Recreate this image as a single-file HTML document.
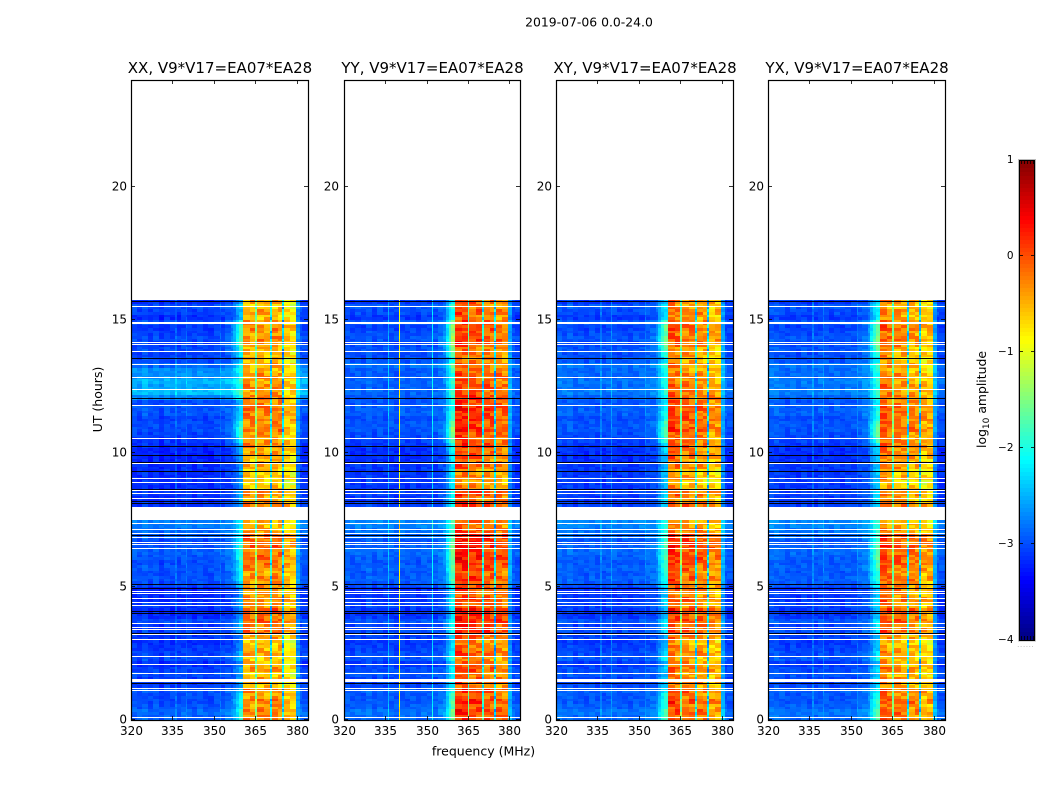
<!DOCTYPE html>
<html><head><meta charset="utf-8"><title>2019-07-06 spectrogram</title>
<style>
html,body{margin:0;padding:0;background:#fff;width:1050px;height:800px;overflow:hidden}
svg{display:block}
text{font-family:"DejaVu Sans","Liberation Sans",sans-serif;fill:#000}
</style></head>
<body>
<svg id="chart" xmlns="http://www.w3.org/2000/svg" width="1050" height="800" viewBox="0 0 1050 800">
<rect width="1050" height="800" fill="#fff"/>
<text x="589" y="26.500" font-size="12.400" text-anchor="middle">2019-07-06 0.0-24.0</text>
<text x="102" y="399.500" font-size="12.500" text-anchor="middle" transform="rotate(-90 102 399.500)">UT (hours)</text>
<text x="483.500" y="755.500" font-size="12.500" text-anchor="middle">frequency (MHz)</text>
<text x="986" y="399.500" font-size="12.400" text-anchor="middle" transform="rotate(-90 986 399.500)">log<tspan font-size="9" dy="3">10</tspan><tspan dy="-3"> amplitude</tspan></text>
</svg>
<script>
const panelTitles = ["XX, V9*V17=EA07*EA28","YY, V9*V17=EA07*EA28","XY, V9*V17=EA07*EA28","YX, V9*V17=EA07*EA28"];
const xTicks = [320,335,350,365,380];
const yTicks = [0,5,10,15,20];
const colorbarTicks = [1,0,-1,-2,-3,-4];
const colorbarEndTicks = [1021.500,1024.500,1027.500,1030.500,1033.500];
const freqEdges = [320,322,324,326,328,330,332,334,336,336.5,338,340,340.4,342,344,346,348,350,352,352.4,354,356,357,358,359,360.5,363,365,365.6,368,370.2,370.9,373,374.7,375.3,377.5,379.6,381,382,384];
const spectrumXX = [-3.05,-3.1,-3.0,-3.1,-3.05,-3.15,-3.05,-3.1,-2.9,-3.1,-3.05,-2.9,-3.05,-3.1,-3.05,-3.1,-3.1,-3.05,-2.9,-3.05,-3.0,-3.0,-2.9,-2.75,-2.6,-0.45,-0.5,-1.6,-0.45,-0.5,-2.2,-0.45,-0.5,-2.4,-0.75,-0.8,-2.7,-3.0,-3.05];
const spectrumYY = [-3.0,-3.05,-3.0,-3.05,-2.95,-3.05,-3.0,-3.05,-2.5,-3.0,-3.05,-0.9,-3.0,-3.05,-3.0,-3.05,-3.0,-3.0,-2.2,-3.0,-2.95,-2.9,-2.6,-2.35,-2.2,0.0,-0.05,-1.8,-0.1,-0.15,-2.1,-0.2,-0.25,-2.3,-0.3,-0.35,-2.6,-3.0,-3.05];
const spectrumXY = [-2.95,-3.0,-2.95,-3.05,-3.0,-3.05,-3.0,-3.05,-2.8,-3.05,-3.0,-2.7,-3.0,-3.05,-3.0,-3.05,-3.0,-3.0,-2.8,-2.95,-2.95,-2.9,-2.7,-2.5,-2.4,-0.15,-0.25,-1.7,-0.3,-0.35,-2.1,-0.4,-0.45,-2.3,-0.55,-0.6,-2.6,-3.0,-3.05];
const spectrumYX = [-2.95,-2.95,-3.0,-3.05,-3.0,-3.05,-3.0,-3.05,-2.8,-3.05,-3.0,-2.8,-3.0,-3.05,-3.0,-3.05,-3.0,-3.0,-2.8,-2.95,-2.9,-2.85,-2.65,-2.45,-2.35,-0.25,-0.35,-1.7,-0.4,-0.45,-2.1,-0.5,-0.55,-2.3,-0.65,-0.7,-2.6,-3.0,-3.05];
const bandGain = [.15,.25,.1,.3,.05,.2,-.1,.05,-.15,.1,-.05,-.2,.05,-.1,-.2,.05,.3,.2,.35,.25,.4,.05,.2,0,.15,.1,.25,.05,.2,.3,.35,.25,.4,.3,.35,.05,-.1,-.05,0,.1,.2,-.05,.15,-.15,-.3,-.1,-.25,.05,-.1,.1,.05,.2,.1,.1,.3,.15,.25,.2,.3,.15,.2,.05,.15,0,.1,-.1,0,-.15,-.05,-.1,.1,.2,.05,.2,.1,-.1,.05,-.15,0];
const floorGain = [.15,.2,.1,.05,.05,.1,0,-.05,.05,0,-.1,.05,0,-.05,-.1,-.05,0,-.05,.05,-.1,-.1,-.05,-.1,-.1,-.15,.05,.1,.05,.1,.05,.1,.15,.1,.05,.15,.2,.3,.3,.25,.2,-.05,-.1,-.05,-.1,-.1,-.1,-.1,-.1,-.15,-.15,-.15,-.1,-.05,0,.05,.05,0,.1,.1,.05,.35,.65,.5,.6,.4,.4,.2,.05,0,.05,0,.05,0,-.05,.05,-.1,0,.05,-.1];
const shoulderGain = [.4,.4,.3,.4,.3,.1,0,.1,-.1,.1,0,.2,.1,0,0,-.1,.1,.2,.1,0,0,.1,.2,0,.1,.2,.3,.3,.4,.4,.5,.4,.5,.4,.3,.2,.1,.1,0,0,.1,.2,.1,0,.1,0,.1,0,.1,.1,.2,.2,.5,.6,.6,.5,.3,.2,.1,.1,.2,.2,.1,.2,.1,.2,.3,.1,.4,.5,.7,.7,.6,.7,.5,.2,.1,.2,.1];
const cellTexture = [-.12,.1,-.05,.14,-.1,.02,.16,-.14,.06,-.02,.12,-.16,.08,-.06,.18,-.08,.04,-.12,.1,0,-.04,.14,-.1];
const panelFloorScale = [1,0.2,0.35,0.4];
const flaggedHours = [15.52,14.88,14.92,14.16,14.1,13.84,13.35,12.85,12.41,11.81,10.59,9.65,9.06,8.94,8.62,8.53,8.34,7.37,7.15,7.02,6.88,6.66,6.59,6.44,4.84,4.75,4.56,4.44,4.31,3.65,3.5,3.4,3.22,3.04,2.41,2.09,1.75,1.46,1.5,1.54,1.19,1.12,0.1];
const darkHours = [15.71,13.59,12.06,10.26,9.92,9.69,9.34,8.68,8.22,8.12,6.92,5.1,4.96,4.1,4.0,3.27,1.38];
const gapStart = [7.5];
const gapEnd = [7.99];

const SVG_NS = "http://www.w3.org/2000/svg";
const svg = document.getElementById('chart');
const panelLeft = [131,344,556,768];
const panelRight = [308,520,733,945];
const yLabelPad = [4,5,4,4];
const plotTop = 80, plotBottom = 720;
const freqMin = 320, freqMax = 384, hourMin = 0, hourMax = 24;
const rowStep = 0.2, dataEnd = 15.75;
const bandLow = 360.5, bandHigh = 379.6, shoulderLow = 352.4;
const vMin = -4, vMax = 1;
const spectra = [spectrumXX,spectrumYY,spectrumXY,spectrumYX];

function node(tag, attrs, parent){
  const n = document.createElementNS(SVG_NS, tag);
  for (const k in attrs) n.setAttribute(k, attrs[k]);
  (parent || svg).appendChild(n);
  return n;
}
function xScale(p, f){ return panelLeft[p] + (f - freqMin) / (freqMax - freqMin) * (panelRight[p] - panelLeft[p]); }
function yScale(h){ return plotBottom - (h - hourMin) / (hourMax - hourMin) * (plotBottom - plotTop); }
function clip(v){ return Math.max(0, Math.min(1, v)); }
function jet(v){
  const t = clip((v - vMin) / (vMax - vMin));
  const r = clip(1.5 - Math.abs(4*t - 3));
  const g = clip(1.5 - Math.abs(4*t - 2));
  const b = clip(1.5 - Math.abs(4*t - 1));
  return 'rgb(' + Math.round(r*255) + ',' + Math.round(g*255) + ',' + Math.round(b*255) + ')';
}
function cellValue(p, c, r, sub){
  const f = (freqEdges[c] + freqEdges[c+1]) / 2;
  const tex = cellTexture[(r * 7 + sub * 11 + c * 3 + p * 5) % cellTexture.length];
  if (f > bandLow && f < bandHigh){
    if (spectra[p][c] > -1.9) return spectra[p][c] + bandGain[r] + tex * 1.6;
    return spectra[p][c] + tex * 3;
  }
  const g = floorGain[r];
  const floor = spectra[p][c] + (g > 0.3 ? g * panelFloorScale[p] : g) + tex * 0.6;
  if (f > shoulderLow && f < bandLow){
    const w = (f - shoulderLow) / (bandLow - shoulderLow);
    return floor + shoulderGain[r] * w * w * 1.5;
  }
  return floor;
}

panelTitles.forEach(function(title, p){
  const group = node('g', {});
  
  

  const cells = node('g', {'shape-rendering':'crispEdges'}, group);
  
  
  bandGain.forEach(function(_, r){
    for (let sub = 0; sub < 2; sub++){
      const h0 = (r + sub / 2) * rowStep;
      const h1 = Math.min((r + (sub + 1) / 2) * rowStep, dataEnd);
      if (h1 <= h0) continue;
      for (let c = 0; c < freqEdges.length - 1; c++){
        const x0 = Math.round(xScale(p, freqEdges[c]));
        const x1 = Math.round(xScale(p, freqEdges[c+1]));
        const y0 = Math.round(yScale(h1));
        const y1 = Math.round(yScale(h0));
        const cell = node('rect', {x:x0, y:y0, width:Math.max(1, x1-x0), height:Math.max(1, y1-y0), fill:jet(cellValue(p, c, r, sub))}, cells);
        
        
      }
    }
  });

  const x0 = panelLeft[p], x1 = panelRight[p];
  gapStart.forEach(function(s, i){
    const gap = node('rect', {x:x0, y:yScale(gapEnd[i]), width:x1-x0, height:yScale(s)-yScale(gapEnd[i]), fill:'#fff', 'shape-rendering':'crispEdges'}, group);
    
    
  });
  flaggedHours.forEach(function(h){
    const line = node('rect', {x:x0, y:Math.round(yScale(h)), width:x1-x0, height:1, fill:'#fff', 'shape-rendering':'crispEdges'}, group);
    
    
  });
  darkHours.forEach(function(h){
    const line = node('rect', {x:x0, y:Math.round(yScale(h)), width:x1-x0, height:1, fill:'#000010', 'shape-rendering':'crispEdges'}, group);
    
    
  });

  const frame = node('rect', {x:x0+0.5, y:plotTop+0.5, width:x1-x0, height:plotBottom-plotTop, fill:'none', stroke:'#000', 'stroke-width':1.2}, group);
  
  

  const head = node('text', {x:(x0+x1)/2+0.5, y:73, 'font-size':15, 'text-anchor':'middle'}, group);
  head.textContent = title;
  
  

  xTicks.forEach(function(t){
    const x = Math.round(xScale(p, t)) + 0.5;
    const top = node('line', {x1:x, x2:x, y1:plotTop, y2:plotTop+4, stroke:'#000', 'stroke-width':0.8}, group);
    
    
    const bot = node('line', {x1:x, x2:x, y1:plotBottom, y2:plotBottom-4, stroke:'#000', 'stroke-width':0.8}, group);
    
    
    const lab = node('text', {x:x, y:735, 'font-size':12, 'text-anchor':'middle'}, group);
    lab.textContent = t;
    
    
  });
  yTicks.forEach(function(t){
    const y = Math.floor(yScale(t) - 0.5) + 0.5;
    const left = node('line', {x1:x0, x2:x0+4, y1:y, y2:y, stroke:'#000', 'stroke-width':0.8}, group);
    
    
    const right = node('line', {x1:x1, x2:x1-4, y1:y, y2:y, stroke:'#000', 'stroke-width':0.8}, group);
    
    
    const lab = node('text', {x:x0-yLabelPad[p], y:y+4, 'font-size':12, 'text-anchor':'end'}, group);
    lab.textContent = t;
    
    
  });
});

const cbLeft = 1019, cbRight = 1035, cbTop = 160, cbBottom = 640;
function cbScale(v){ return cbBottom - (v - vMin) / (vMax - vMin) * (cbBottom - cbTop); }
const cbGroup = node('g', {});


const cbHalo = node('rect', {x:cbLeft-0.5, y:cbTop-0.5, width:cbRight-cbLeft+1, height:cbBottom-cbTop+1.5, fill:'none', stroke:'#bbb', 'stroke-width':1}, cbGroup);


for (let i = 0; i < 120; i++){
  const v0 = vMin + (vMax - vMin) * i / 120;
  const v1 = vMin + (vMax - vMin) * (i + 1) / 120;
  const seg = node('rect', {x:cbLeft, y:Math.round(cbScale(v1)), width:cbRight-cbLeft, height:Math.round(cbScale(v0))-Math.round(cbScale(v1)), fill:jet((v0+v1)/2), 'shape-rendering':'crispEdges'}, cbGroup);
  
  
}
const cbFrame = node('rect', {x:cbLeft+0.5, y:cbTop+0.5, width:cbRight-cbLeft-1, height:cbBottom-cbTop, fill:'none', stroke:'#000', 'stroke-width':1}, cbGroup);


colorbarTicks.forEach(function(t){
  const y = Math.floor(cbScale(t) - 0.5) + 0.5;
  if (t !== colorbarTicks[0] && t !== colorbarTicks[colorbarTicks.length - 1]){
    const a = node('line', {x1:cbLeft, x2:cbLeft+4, y1:y, y2:y, stroke:'#000', 'stroke-width':0.8}, cbGroup);
    
    
    const b = node('line', {x1:cbRight, x2:cbRight-4, y1:y, y2:y, stroke:'#000', 'stroke-width':0.8}, cbGroup);
    
    
  }
  const lab = node('text', {x:1013.5, y:y+3.5, 'font-size':10.5, 'text-anchor':'end'}, cbGroup);
  lab.textContent = String(t).replace('-', '\u2212');
  
  
});
colorbarEndTicks.forEach(function(x){
  const top = node('line', {x1:x, x2:x, y1:cbTop, y2:cbTop+4, stroke:'#000', 'stroke-width':0.8}, cbGroup);
  
  
  const bot = node('line', {x1:x, x2:x, y1:cbBottom, y2:cbBottom-4, stroke:'#000', 'stroke-width':0.8}, cbGroup);
  
  
});
const cbDots = node('text', {x:1026, y:647, 'font-size':6, 'text-anchor':'middle', 'letter-spacing':'1px', style:'fill:#888'}, cbGroup);
cbDots.textContent = '......';


</script>
</body></html>
